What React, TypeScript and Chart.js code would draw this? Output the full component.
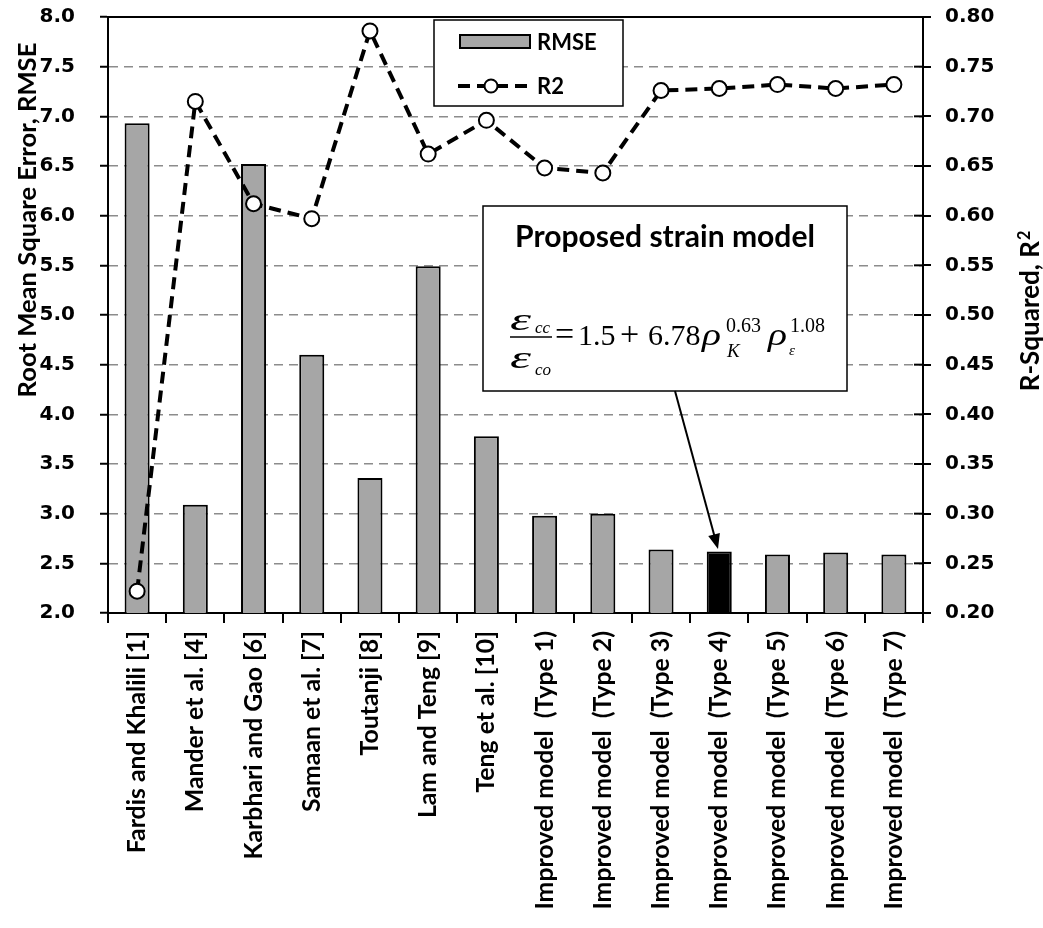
import React, { useEffect, useRef } from 'react';
import { Chart, registerables } from 'chart.js';

Chart.register(...registerables);

const categories = [
  'Fardis and Khalili [1]',
  'Mander et al. [4]',
  'Karbhari and Gao [6]',
  'Samaan et al. [7]',
  'Toutanji [8]',
  'Lam and Teng [9]',
  'Teng et al. [10]',
  'Improved model  (Type 1)',
  'Improved model  (Type 2)',
  'Improved model  (Type 3)',
  'Improved model  (Type 4)',
  'Improved model  (Type 5)',
  'Improved model  (Type 6)',
  'Improved model  (Type 7)',
];

const rmseValues = [6.93, 3.09, 6.52, 4.6, 3.36, 5.49, 3.78, 2.98, 3.0, 2.64, 2.62, 2.59, 2.61, 2.59];
const r2Values = [0.222, 0.715, 0.612, 0.597, 0.786, 0.662, 0.696, 0.648, 0.643, 0.726, 0.728, 0.732, 0.728, 0.732];
const highlightedIndex = 10;

const rmseMin = 2;
const rmseMax = 8;
const rmseStep = 0.5;
const r2Min = 0.2;
const r2Max = 0.8;
const r2Step = 0.05;

const leftTitle = 'Root Mean Square Error, RMSE';
const rightTitle = 'R-Squared, R';
const rightTitleSup = '2';
const legendLabels = ['RMSE', 'R2'];
const noteTitle = 'Proposed strain model';

const GRAY = '#a6a6a6';
const SERIF = '"Liberation Serif"';

function fitSize(ctx: CanvasRenderingContext2D, text: string, weight: string, family: string, target: number) {
  ctx.font = `${weight} 100px ${family}`;
  return (100 * target) / ctx.measureText(text).width;
}

function drawStretched(ctx: CanvasRenderingContext2D, text: string, font: string, x: number, y: number, targetW: number) {
  ctx.font = font;
  const w = ctx.measureText(text).width;
  ctx.save();
  ctx.translate(x, y);
  ctx.scale(targetW / w, 1);
  ctx.fillText(text, 0, 0);
  ctx.restore();
}

const overlayPlugin = {
  id: 'overlay',
  afterDraw(chart: any) {
    const ctx: CanvasRenderingContext2D = chart.ctx;
    const { left, right, top } = chart.chartArea;
    ctx.save();
    ctx.strokeStyle = '#000';
    ctx.fillStyle = '#000';
    ctx.lineWidth = 2;
    // top frame
    ctx.beginPath();
    ctx.moveTo(left - 1, top);
    ctx.lineTo(right + 1, top);
    ctx.stroke();
    // inner tick marks of right axis
    const r = chart.scales.y1;
    r.ticks.forEach((t: any) => {
      const py = r.getPixelForValue(t.value);
      ctx.beginPath();
      ctx.moveTo(right - 9, py);
      ctx.lineTo(right, py);
      ctx.stroke();
    });

    // legend
    ctx.fillStyle = '#fff';
    ctx.fillRect(434, 20, 189, 86);
    ctx.lineWidth = 1.5;
    ctx.strokeRect(434, 20, 189, 86);
    ctx.fillStyle = GRAY;
    ctx.fillRect(460, 35, 70, 13);
    ctx.lineWidth = 2;
    ctx.strokeRect(460, 35, 70, 13);
    ctx.save();
    ctx.setLineDash([12, 7]);
    ctx.lineWidth = 4;
    ctx.beginPath();
    ctx.moveTo(458, 86);
    ctx.lineTo(530, 86);
    ctx.stroke();
    ctx.restore();
    ctx.beginPath();
    ctx.arc(491, 86, 6.5, 0, Math.PI * 2);
    ctx.fillStyle = '#fff';
    ctx.fill();
    ctx.lineWidth = 2;
    ctx.stroke();
    ctx.fillStyle = '#000';
    ctx.textBaseline = 'alphabetic';
    ctx.textAlign = 'left';
    ctx.font = 'bold 22px Lato';
    ctx.fillText(legendLabels[0], 537, 50);
    ctx.fillText(legendLabels[1], 537, 94);

    // annotation box
    ctx.fillStyle = '#fff';
    ctx.fillRect(483, 206, 364, 185);
    ctx.lineWidth = 1.5;
    ctx.strokeRect(483, 206, 364, 185);
    ctx.fillStyle = '#000';
    const ts = fitSize(ctx, noteTitle, 'bold', 'Lato', 300);
    ctx.font = `bold ${ts}px Lato`;
    ctx.textAlign = 'center';
    ctx.fillText(noteTitle, 665, 247);

    // equation
    ctx.textAlign = 'left';
    drawStretched(ctx, '\u03b5', `italic 31px ${SERIF}`, 510, 330, 21);
    drawStretched(ctx, '\u03b5', `italic 31px ${SERIF}`, 510, 368, 21);
    ctx.font = `italic 17px ${SERIF}`;
    ctx.fillText('cc', 535, 333);
    ctx.fillText('co', 535, 375);
    ctx.lineWidth = 1.3;
    ctx.beginPath();
    ctx.moveTo(510, 337);
    ctx.lineTo(552, 337);
    ctx.stroke();
    ctx.font = `34px ${SERIF}`;
    ctx.fillText('=', 555, 345);
    ctx.font = `30px ${SERIF}`;
    ctx.fillText('1.5', 578, 345);
    ctx.font = `34px ${SERIF}`;
    ctx.fillText('+', 620, 345);
    ctx.font = `30px ${SERIF}`;
    ctx.fillText('6.78', 648, 345);
    drawStretched(ctx, '\u03c1', `italic 31px ${SERIF}`, 702, 345, 19);
    ctx.font = `20px ${SERIF}`;
    ctx.fillText('0.63', 726, 332);
    ctx.font = `italic 19px ${SERIF}`;
    ctx.fillText('K', 727, 357);
    drawStretched(ctx, '\u03c1', `italic 31px ${SERIF}`, 768, 345, 19);
    ctx.font = `20px ${SERIF}`;
    ctx.fillText('1.08', 790, 332);
    ctx.font = `italic 15px ${SERIF}`;
    ctx.fillText('\u03b5', 789, 355);

    // arrow
    const ax0 = 675, ay0 = 391, ax1 = 718, ay1 = 549;
    const ang = Math.atan2(ay1 - ay0, ax1 - ax0);
    ctx.lineWidth = 2;
    ctx.beginPath();
    ctx.moveTo(ax0, ay0);
    ctx.lineTo(ax1 - 12 * Math.cos(ang), ay1 - 12 * Math.sin(ang));
    ctx.stroke();
    ctx.beginPath();
    ctx.moveTo(ax1, ay1);
    ctx.lineTo(ax1 - 15 * Math.cos(ang) + 6 * Math.sin(ang), ay1 - 15 * Math.sin(ang) - 6 * Math.cos(ang));
    ctx.lineTo(ax1 - 15 * Math.cos(ang) - 6 * Math.sin(ang), ay1 - 15 * Math.sin(ang) + 6 * Math.cos(ang));
    ctx.closePath();
    ctx.fill();

    // left axis title
    ctx.save();
    const ls = fitSize(ctx, leftTitle, 'bold', 'Lato', 355);
    ctx.font = `bold ${ls}px Lato`;
    ctx.translate(36, 220);
    ctx.rotate(-Math.PI / 2);
    ctx.textAlign = 'center';
    ctx.textBaseline = 'alphabetic';
    ctx.fillText(leftTitle, 0, 0);
    ctx.restore();

    // right axis title
    ctx.save();
    const rs = 26;
    ctx.font = `bold ${rs}px Lato`;
    const w1 = ctx.measureText(rightTitle).width;
    ctx.font = `bold ${rs * 0.62}px Lato`;
    const w2 = ctx.measureText(rightTitleSup).width;
    const total = w1 + w2 + 1;
    ctx.translate(1039, 311);
    ctx.rotate(-Math.PI / 2);
    ctx.textAlign = 'left';
    ctx.textBaseline = 'alphabetic';
    ctx.font = `bold ${rs}px Lato`;
    ctx.fillText(rightTitle, -total / 2, 0);
    ctx.font = `bold ${rs * 0.62}px Lato`;
    ctx.fillText(rightTitleSup, -total / 2 + w1 + 1, -9);
    ctx.restore();

    ctx.restore();
  },
};

export default function App() {
  const ref = useRef<HTMLCanvasElement>(null);
  useEffect(() => {
    const canvas = ref.current as HTMLCanvasElement;
    const m = document.createElement('canvas').getContext('2d') as CanvasRenderingContext2D;
    const xLabelSize = Math.round(fitSize(m, categories[0], 'bold', 'Lato', 222) * 10) / 10;
    const tickFont = { family: '"DejaVu Sans"', weight: 'bold' as const, size: 20 };

    const chart = new Chart(canvas, {
      data: {
        labels: categories,
        datasets: [
          {
            type: 'line',
            label: legendLabels[1],
            data: r2Values,
            yAxisID: 'y1',
            borderColor: '#000',
            borderWidth: 4,
            borderDash: [12, 7],
            pointRadius: 7.5,
            pointBorderWidth: 2,
            pointBackgroundColor: '#fff',
            pointBorderColor: '#000',
            tension: 0,
            fill: false,
            order: 0,
          },
          {
            type: 'bar',
            label: legendLabels[0],
            data: rmseValues,
            yAxisID: 'y',
            backgroundColor: rmseValues.map((_, i) => (i === highlightedIndex ? '#000' : GRAY)),
            borderColor: '#000',
            borderWidth: 2,
            barPercentage: 0.43,
            categoryPercentage: 1,
            order: 1,
          },
        ] as any,
      },
      options: {
        responsive: false,
        animation: false,
        devicePixelRatio: 1,
        layout: { padding: { top: 17, left: 0, right: 0, bottom: 0 } },
        plugins: { legend: { display: false }, tooltip: { enabled: false } },
        scales: {
          x: {
            type: 'category',
            offset: true,
            grid: { offset: true, drawOnChartArea: false, drawTicks: true, tickLength: 10, tickColor: '#000', lineWidth: 2 },
            border: { display: true, color: '#000', width: 2 },
            ticks: {
              autoSkip: false,
              maxRotation: 90,
              minRotation: 90,
              padding: 8,
              color: '#000',
              font: { family: 'Lato', weight: 'bold', size: xLabelSize },
            },
            afterFit: (s: any) => {
              s.height = 315;
            },
          },
          y: {
            position: 'left',
            min: rmseMin,
            max: rmseMax,
            ticks: {
              stepSize: rmseStep,
              callback: (v: any) => Number(v).toFixed(1),
              color: '#000',
              padding: 25,
              font: tickFont,
            },
            grid: {
              color: (c: any) =>
                c.tick && (Math.abs(c.tick.value - rmseMin) < 1e-6 || Math.abs(c.tick.value - rmseMax) < 1e-6)
                  ? 'rgba(0,0,0,0)'
                  : '#8c8c8c',
              lineWidth: 1.5,
              tickColor: '#000',
              tickWidth: 2,
              tickLength: 8,
            },
            border: { display: true, color: '#000', width: 2, dash: [9, 6] },
            afterFit: (s: any) => {
              s.width = 108;
              s.paddingTop = 0;
              s.paddingBottom = 0;
            },
          },
          y1: {
            position: 'right',
            min: r2Min,
            max: r2Max,
            ticks: {
              stepSize: r2Step,
              callback: (v: any) => Number(v).toFixed(2),
              color: '#000',
              padding: 14,
              font: tickFont,
            },
            grid: { drawOnChartArea: false, tickColor: '#000', tickLength: 8, lineWidth: 2 },
            border: { display: true, color: '#000', width: 2 },
            afterFit: (s: any) => {
              s.width = 120;
              s.paddingTop = 0;
              s.paddingBottom = 0;
            },
          },
        },
      } as any,
      plugins: [overlayPlugin],
    });
    return () => chart.destroy();
  }, []);

  return (
    <div style={{ position: 'absolute', left: 0, top: 0, width: 1043, height: 928, background: '#fff' }}>
      <canvas ref={ref} width={1043} height={928} style={{ width: 1043, height: 928, display: 'block' }} />
    </div>
  );
}
